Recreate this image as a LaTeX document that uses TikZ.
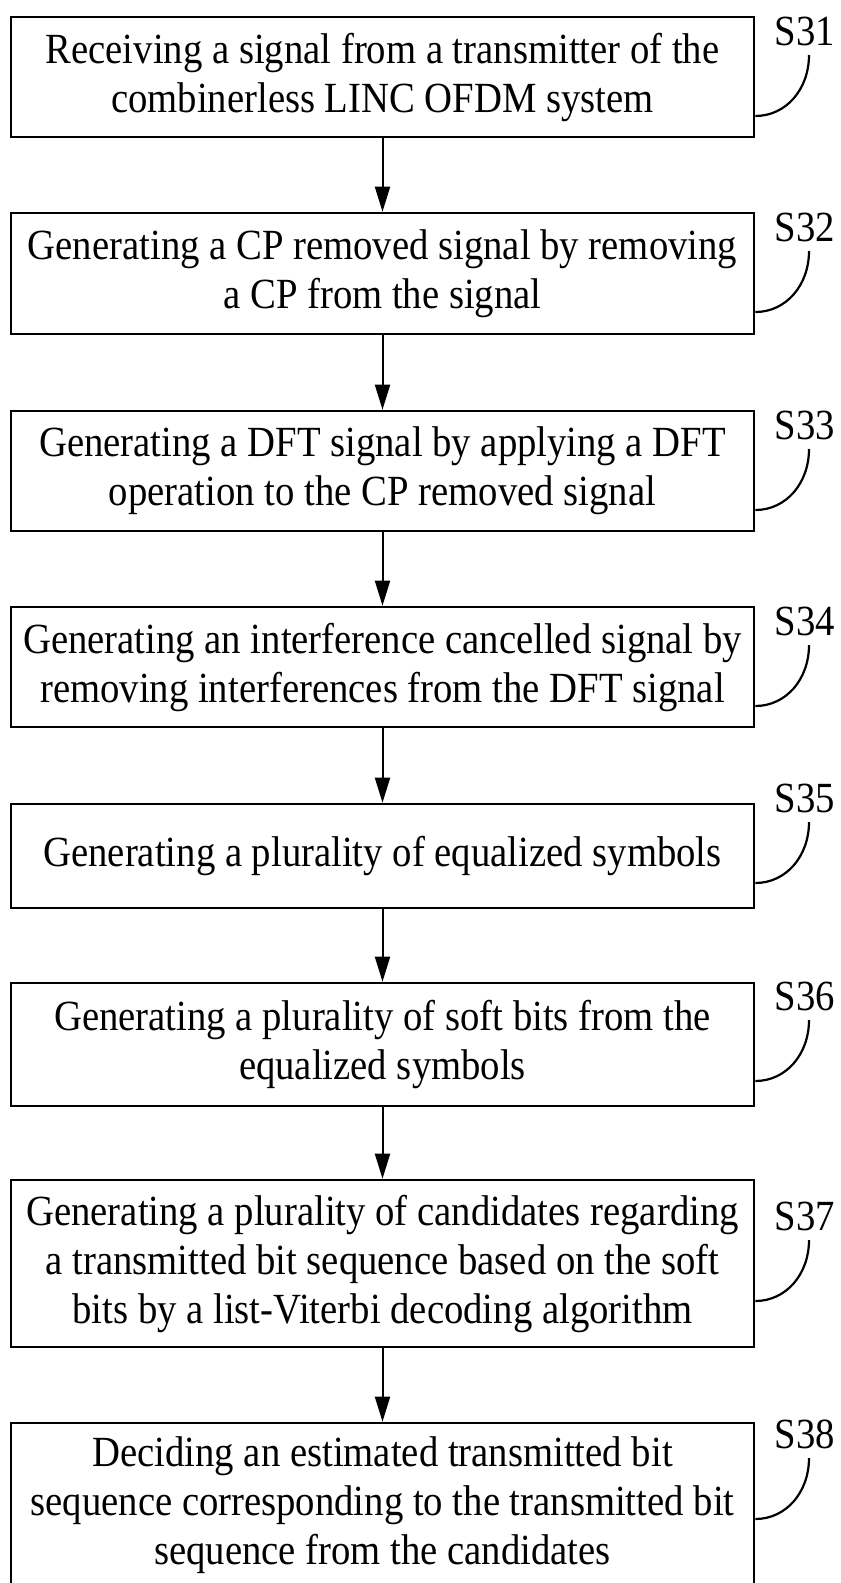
\documentclass[tikz,border=0pt]{standalone}
\usepackage{fontspec}
\setmainfont{Liberation Serif}[FakeStretch=0.9]
\usetikzlibrary{arrows.meta}
\begin{document}
\begin{tikzpicture}[x=1pt,y=-1pt,
  stepbox/.style={draw, line width=2.6pt, minimum width=743pt, inner sep=0pt,
    align=center, font=\fontsize{43}{49}\selectfont},
  steplabel/.style={inner sep=0pt, anchor=base, font=\fontsize{43}{49}\selectfont},
  arr/.style={line width=2pt, -{Triangle[length=25pt,width=15pt]}},
  lead/.style={line width=2.2pt}]
\useasboundingbox (0,0) rectangle (841,1583);
\clip (0,0) rectangle (841,1583);
\fill[white] (0,0) rectangle (841,1583);

\node[stepbox, minimum height=120pt] (b1) at (382.5,77) {Receiving a signal from a transmitter of the\\combinerless LINC OFDM system};
\node[stepbox, minimum height=121pt] (b2) at (382.5,273.5) {Generating a CP removed signal by removing\\a CP from the signal};
\node[stepbox, minimum height=120pt] (b3) at (382.5,471) {Generating a DFT signal by applying a DFT\\operation to the CP removed signal};
\node[stepbox, minimum height=120pt] (b4) at (382.5,667) {Generating an interference cancelled signal by\\removing interferences from the DFT signal};
\node[stepbox, minimum height=104pt] (b5) at (382.5,856) {Generating a plurality of equalized symbols};
\node[stepbox, minimum height=123pt] (b6) at (382.5,1044.5) {Generating a plurality of soft bits from the\\equalized symbols};
\node[stepbox, minimum height=167pt] (b7) at (382.5,1263.5) {Generating a plurality of candidates regarding\\a transmitted bit sequence based on the soft\\bits by a list-Viterbi decoding algorithm};
\node[stepbox, minimum height=164pt] (b8) at (382.5,1505) {Deciding an estimated transmitted bit\\sequence corresponding to the transmitted bit\\sequence from the candidates};

\draw[arr] (b1) -- (b2);
\draw[arr] (b2) -- (b3);
\draw[arr] (b3) -- (b4);
\draw[arr] (b4) -- (b5);
\draw[arr] (b5) -- (b6);
\draw[arr] (b6) -- (b7);
\draw[arr] (b7) -- (b8);

\foreach \i/\bl in {1/45, 2/241, 3/439, 4/635, 5/812, 6/1010, 7/1230, 8/1448} {
  \node[steplabel] (l\i) at (805,\bl) {S3\i};
  \coordinate (t\i) at (809,\bl+10);
  \draw[lead] (b\i.east |- 0,\bl+71) .. controls +(31,0) and +(0,34) .. (t\i);
}
\end{tikzpicture}
\end{document}
